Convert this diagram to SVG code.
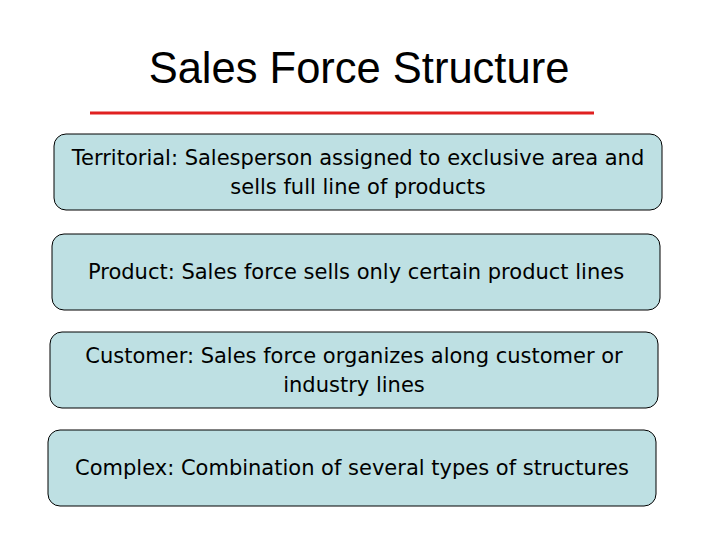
<svg xmlns="http://www.w3.org/2000/svg" width="720" height="540" viewBox="0 0 720 540">
<style>
.box{fill:#BEE0E3;stroke:#000;stroke-width:1}
.t{font-family:"DejaVu Sans",Verdana,sans-serif;font-size:21px;text-anchor:middle;fill:#000}
</style>
<rect width="720" height="540" fill="#fff"/>
<text x="359" y="83" font-family="Liberation Sans,Arial,sans-serif" font-size="43.5" text-anchor="middle">Sales Force Structure</text>
<line x1="90" y1="113" x2="594" y2="113" stroke="#E02020" stroke-width="3"/>
<g id="territorial"><rect class="box" x="54" y="134" width="608" height="76" rx="12"/>
<text class="t" x="358" y="165">Territorial: Salesperson assigned to exclusive area and</text>
<text class="t" x="358" y="194">sells full line of products</text></g>
<g id="product"><rect class="box" x="52" y="234" width="608" height="76" rx="12"/>
<text class="t" x="356" y="279">Product: Sales force sells only certain product lines</text></g>
<g id="customer"><rect class="box" x="50" y="332" width="608" height="76" rx="12"/>
<text class="t" x="354" y="363">Customer: Sales force organizes along customer or</text>
<text class="t" x="354" y="392">industry lines</text></g>
<g id="complex"><rect class="box" x="48" y="430" width="608" height="76" rx="12"/>
<text class="t" x="352" y="475">Complex: Combination of several types of structures</text></g>
<g id="connectors"/>
</svg>
